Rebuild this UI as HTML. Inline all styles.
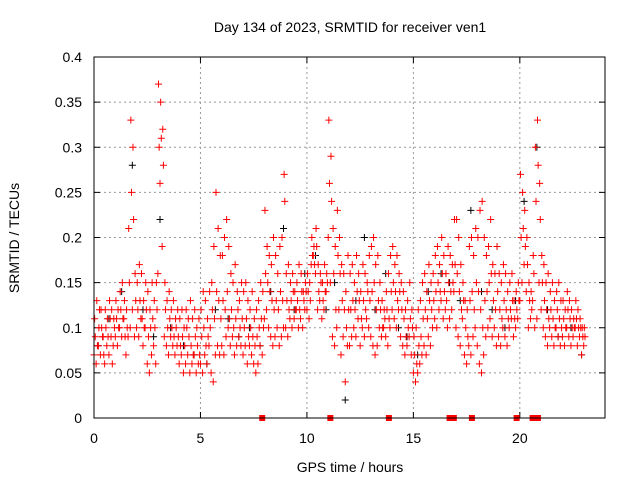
<!DOCTYPE html>
<html><head><meta charset="utf-8"><style>
body{margin:0;background:#fff;font-family:"Liberation Sans",sans-serif}
svg text{font-family:"Liberation Sans",sans-serif;font-size:14px;fill:#000}
</style></head><body>
<svg id="chart" width="640" height="480" xmlns="http://www.w3.org/2000/svg">
<text x="350" y="32" text-anchor="middle">Day 134 of 2023, SRMTID for receiver ven1</text>
<text x="350" y="472" text-anchor="middle">GPS time / hours</text>
<text transform="translate(19,238) rotate(-90)" text-anchor="middle">SRMTID / TECUs</text>
<g id="grid"></g><g id="ticks"></g><g id="marks"></g>
<rect x="94" y="57" width="511" height="361" fill="none" stroke="#000" stroke-width="1"/>
</svg>
<script>
const xTicks=[0,5,10,15,20];
const yTicks=[0,0.05,0.1,0.15,0.2,0.25,0.3,0.35,0.4];
const yTickLabels=["0","0.05","0.1","0.15","0.2","0.25","0.3","0.35","0.4"];
const tStart=0, tStep=0.1;
const redA=[.07,.06,.08,.07,.09,.06,.08,.07,.09,.08,.09,.08,.10,.09,.11,.07,.09,.10,.12,.09,.10,.09,.11,.08,.10,.06,.05,.07,.08,.06,.16,.26,.19,.09,.08,.07,.09,.08,.07,.08,.06,.07,.05,.06,.07,.05,.06,.07,.05,.06,.06,.05,.07,.06,.08,.05,.04,.07,.08,.07,.08,.07,.09,.10,.08,.09,.07,.08,.09,.08,.07,.08,.06,.08,.07,.06,.05,.06,.08,.07,.11,.12,.10,.09,.08,.09,.10,.08,.09,.10,.10,.09,.11,.10,.11,.12,.10,.11,.10,.12,.12,.11,.17,.18,.16,.12,.13,.11,.12,.14,.20,.15,.09,.08,.10,.12,.07,.09,.04,.08,.08,.09,.10,.09,.11,.08,.10,.09,.11,.10,.09,.08,.07,.08,.10,.09,.10,.09,.08,.10,.12,.11,.10,.12,.09,.08,.07,.08,.09,.07,.05,.04,.05,.06,.07,.08,.07,.09,.08,.10,.11,.10,.12,.13,.11,.12,.10,.11,.12,.14,.10,.09,.08,.11,.07,.06,.08,.07,.09,.10,.08,.06,.05,.07,.09,.10,.11,.09,.10,.08,.09,.08,.10,.09,.08,.10,.11,.09,.10,.11,.13,.15,.17,.14,.10,.11,.13,.10,.11,.15,.12,.10,.09,.08,.10,.09,.08,.10,.09,.08,.09,.08,.10,.09,.08,.09,.10,.08,.09,.07,.08];
const redB=[.11,.13,.10,.12,.09,.12,.11,.13,.12,.11,.13,.12,.14,.15,.13,.12,.21,.33,.30,.16,.15,.17,.16,.13,.15,.14,.12,.15,.13,.15,.37,.35,.32,.15,.13,.14,.12,.13,.11,.12,.11,.12,.10,.12,.11,.13,.11,.12,.10,.11,.12,.14,.13,.11,.14,.15,.19,.25,.21,.18,.18,.20,.22,.19,.16,.15,.17,.14,.13,.15,.14,.15,.13,.12,.14,.11,.12,.13,.15,.14,.23,.19,.18,.17,.20,.18,.16,.19,.20,.27,.16,.17,.15,.16,.14,.15,.17,.16,.14,.15,.16,.15,.20,.19,.21,.17,.16,.15,.17,.16,.33,.29,.21,.19,.23,.20,.17,.16,.14,.18,.16,.17,.15,.18,.16,.14,.17,.16,.15,.18,.19,.20,.17,.18,.15,.13,.12,.14,.16,.18,.19,.17,.18,.16,.15,.14,.12,.13,.15,.12,.09,.10,.12,.13,.15,.16,.14,.17,.15,.16,.18,.19,.17,.20,.18,.16,.19,.18,.17,.22,.22,.20,.17,.15,.13,.12,.19,.20,.18,.21,.20,.23,.24,.20,.18,.19,.22,.17,.16,.19,.16,.15,.17,.16,.14,.15,.16,.13,.14,.15,.27,.25,.23,.20,.15,.14,.18,.30,.33,.26,.18,.17,.15,.16,.14,.15,.13,.14,.15,.13,.13,.12,.14,.13,.12,.11,.13,.12,.11,.10,.10];
const redC=[.09,.08,.12,.10,.07,.10,.09,.11,.06,.10,.11,.10,.12,.11,.09,.10,.15,.25,.22,.13,.12,.13,.11,.10,.12,.09,.10,.11,.10,.12,.30,.31,.28,.12,.10,.11,.10,.09,.10,.09,.08,.09,.08,.10,.09,.08,.07,.09,.08,.07,.09,.10,.08,.09,.10,.12,.11,.14,.13,.11,.13,.12,.14,.11,.12,.10,.11,.12,.10,.11,.10,.11,.09,.10,.09,.08,.09,.10,.11,.10,.16,.15,.14,.13,.12,.13,.12,.14,.13,.24,.13,.12,.13,.14,.12,.13,.12,.14,.13,.14,.14,.13,.18,.17,.19,.14,.15,.13,.14,.15,.26,.24,.16,.12,.18,.16,.13,.12,.10,.12,.12,.13,.12,.14,.13,.11,.13,.12,.14,.13,.14,.15,.12,.13,.12,.10,.11,.12,.11,.14,.15,.14,.13,.14,.12,.11,.09,.10,.11,.10,.07,.06,.08,.09,.11,.12,.11,.13,.12,.13,.14,.15,.14,.16,.14,.13,.15,.14,.15,.17,.16,.14,.12,.13,.10,.09,.13,.14,.12,.15,.14,.12,.10,.13,.14,.15,.16,.13,.12,.14,.12,.11,.13,.12,.11,.12,.13,.11,.12,.13,.20,.21,.19,.17,.13,.12,.16,.24,.28,.22,.15,.13,.12,.11,.12,.11,.10,.12,.11,.10,.11,.10,.12,.11,.10,.10,.11,.10,.10,.09,.09];
const blackTimes=[0.2,0.7,1.3,1.8,2.3,2.8,3.1,3.6,4.2,4.7,5.3,5.7,6.3,6.8,7.3,7.8,8.3,8.9,9.4,9.9,10.4,10.9,11.3,11.8,12.3,12.7,13.2,13.7,14.3,14.7,15.2,15.7,16.3,16.7,17.2,17.7,18.2,18.7,19.3,19.8,20.2,20.8,21.3,21.8,22.4,22.9];
const blackVals=[.08,.11,.14,.28,.12,.09,.22,.10,.08,.07,.06,.12,.11,.09,.10,.08,.14,.21,.12,.16,.18,.12,.15,.02,.13,.20,.12,.16,.10,.09,.07,.14,.16,.15,.13,.23,.14,.12,.10,.13,.24,.30,.12,.09,.10,.07];
const gapTimes=[7.9,11.1,13.85,16.7,16.8,16.9,17.75,19.85,20.6,20.75,20.85];

const X0=94,X1=605,Y0=418,Y1=57,tMax=24,vMax=0.4;
const xs=t=>X0+(X1-X0)*t/tMax;
const ys=v=>Y0-(Y0-Y1)*v/vMax;
const NS="http://www.w3.org/2000/svg";
const mk=(tag,attrs,parent)=>{const e=document.createElementNS(NS,tag);for(const k in attrs)e.setAttribute(k,attrs[k]);parent.appendChild(e);return e;};
const grid=document.getElementById('grid'),ticks=document.getElementById('ticks'),marks=document.getElementById('marks');
xTicks.forEach(t=>{
  const x=xs(t);
  if(t>0){const g=mk('line',{x1:x,x2:x,y1:Y1,y2:Y0,stroke:'#999','stroke-dasharray':'2,3'},grid);
  
  }
  mk('line',{x1:x,x2:x,y1:Y0,y2:Y0-6,stroke:'#000'},ticks);
  mk('line',{x1:x,x2:x,y1:Y1,y2:Y1+6,stroke:'#000'},ticks);
  const l=mk('text',{x:x,y:443,'text-anchor':'middle'},ticks);l.textContent=t;
  
  
});
yTicks.forEach((v,i)=>{
  const y=ys(v);
  if(v>0&&v<0.4){const g=mk('line',{x1:X0,x2:X1,y1:y,y2:y,stroke:'#999','stroke-dasharray':'2,3'},grid);
  
  }
  mk('line',{x1:X0,x2:X0+6,y1:y,y2:y,stroke:'#000'},ticks);
  mk('line',{x1:X1,x2:X1-6,y1:y,y2:y,stroke:'#000'},ticks);
  const l=mk('text',{x:82,y:y+5,'text-anchor':'end'},ticks);l.textContent=yTickLabels[i];
  
  
});
function plus(t,v,color,name){
  const x=xs(t),y=ys(v);
  const p=mk('path',{d:`M${x-3.5},${y}h7M${x},${y-3.5}v7`,stroke:color,'stroke-width':1,fill:'none'},marks);
  
  
}
blackTimes.forEach((t,i)=>plus(t,blackVals[i],'#000','black-point'));
[redA,redB,redC].forEach((arr,k)=>arr.forEach((v,i)=>plus(tStart+tStep*i+k*0.03,v,'#f00','red-point')));
gapTimes.forEach(t=>{
  const r=mk('rect',{x:xs(t)-3,y:Y0-3,width:6,height:6,fill:'#f00'},marks);
  
  
});
</script>
</body></html>
